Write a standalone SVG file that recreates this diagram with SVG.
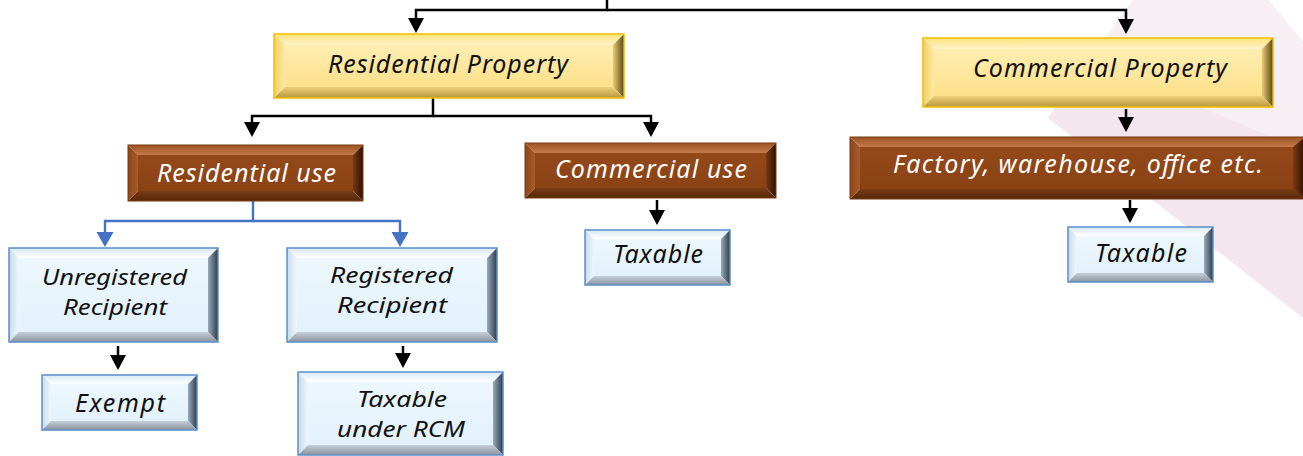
<svg xmlns="http://www.w3.org/2000/svg" width="1303" height="456" viewBox="0 0 1303 456">
  <style>
    .lbl { font-family: "Noto Sans", "Open Sans", sans-serif; font-style: italic; font-size: 25px; }
    .two { font-size: 22px; }
    .dark { fill: #111; }
    .light { fill: #fff; }
    .wire { fill: none; stroke: #000; stroke-width: 2.5; marker-end: url(#arrowBlack); }
    .wire-blue { fill: none; stroke: #4472c4; stroke-width: 2.4; marker-end: url(#arrowBlue); }
    .y-face { fill: url(#yFace); } .y-top { fill: url(#yTop); } .y-left { fill: url(#yLeft); }
    .y-right { fill: url(#yRight); } .y-bot { fill: url(#yBot); }
    .y-edge { fill: none; stroke: #f2be00; stroke-width: 1.5; }
    .b-face { fill: url(#bFace); } .b-top { fill: url(#bTop); } .b-left { fill: url(#bLeft); }
    .b-right { fill: url(#bRight); } .b-bot { fill: url(#bBot); }
    .b-edge { fill: none; stroke: #7a3a10; stroke-width: 1; }
    .l-face { fill: url(#lFace); } .l-top { fill: url(#lTop); } .l-left { fill: url(#lLeft); }
    .l-right { fill: url(#lRight); } .l-bot { fill: url(#lBot); }
    .l-edge { fill: none; stroke: #5b8fc9; stroke-width: 1.5; }
  </style>
  <defs>
    <marker id="arrowBlack" markerUnits="userSpaceOnUse" markerWidth="17" markerHeight="17" refX="12" refY="8" orient="auto">
      <path d="M0,0 L15,8 L0,16 z" fill="#000"/>
    </marker>
    <marker id="arrowBlue" markerUnits="userSpaceOnUse" markerWidth="17" markerHeight="18" refX="12" refY="8.5" orient="auto">
      <path d="M0,0 L15,8.5 L0,17 z" fill="#4472c4"/>
    </marker>
    <!-- yellow bevel -->
    <linearGradient id="yFace" x1="0" y1="0" x2="0" y2="1"><stop offset="0" stop-color="#ffeeb2"/><stop offset="1" stop-color="#fde08a"/></linearGradient>
    <linearGradient id="yTop" x1="0" y1="0" x2="0" y2="1"><stop offset="0" stop-color="#ffe27a"/><stop offset="1" stop-color="#fff3c8"/></linearGradient>
    <linearGradient id="yLeft" x1="0" y1="0" x2="1" y2="0"><stop offset="0" stop-color="#f3cf62"/><stop offset="1" stop-color="#ffe9a6"/></linearGradient>
    <linearGradient id="yRight" x1="0" y1="0" x2="1" y2="0"><stop offset="0" stop-color="#eacb72"/><stop offset="1" stop-color="#5a4714"/></linearGradient>
    <linearGradient id="yBot" x1="0" y1="0" x2="0" y2="1"><stop offset="0" stop-color="#edd07a"/><stop offset="1" stop-color="#b8983e"/></linearGradient>
    <!-- brown bevel -->
    <linearGradient id="bFace" x1="0" y1="0" x2="0" y2="1"><stop offset="0" stop-color="#94491a"/><stop offset="1" stop-color="#8a4214"/></linearGradient>
    <linearGradient id="bTop" x1="0" y1="0" x2="0" y2="1"><stop offset="0" stop-color="#9c5222"/><stop offset="1" stop-color="#c47a4c"/></linearGradient>
    <linearGradient id="bLeft" x1="0" y1="0" x2="1" y2="0"><stop offset="0" stop-color="#8e4618"/><stop offset="1" stop-color="#a85c2c"/></linearGradient>
    <linearGradient id="bRight" x1="0" y1="0" x2="1" y2="0"><stop offset="0" stop-color="#7a3a12"/><stop offset="1" stop-color="#2a1004"/></linearGradient>
    <linearGradient id="bBot" x1="0" y1="0" x2="0" y2="1"><stop offset="0" stop-color="#7a3c14"/><stop offset="1" stop-color="#562808"/></linearGradient>
    <!-- pale blue bevel -->
    <linearGradient id="lFace" x1="0" y1="0" x2="0" y2="1"><stop offset="0" stop-color="#edf7fd"/><stop offset="1" stop-color="#e2f1fb"/></linearGradient>
    <linearGradient id="lTop" x1="0" y1="0" x2="0" y2="1"><stop offset="0" stop-color="#d8e8f4"/><stop offset="1" stop-color="#ffffff"/></linearGradient>
    <linearGradient id="lLeft" x1="0" y1="0" x2="1" y2="0"><stop offset="0" stop-color="#c8dbe9"/><stop offset="1" stop-color="#eef7fc"/></linearGradient>
    <linearGradient id="lRight" x1="0" y1="0" x2="1" y2="0"><stop offset="0" stop-color="#98aabb"/><stop offset="1" stop-color="#2c3b4a"/></linearGradient>
    <linearGradient id="lBot" x1="0" y1="0" x2="0" y2="1"><stop offset="0" stop-color="#c6ced6"/><stop offset="1" stop-color="#8a949e"/></linearGradient>
  </defs>

  <!-- page background -->
  <rect x="0" y="0" width="1303" height="456" fill="#ffffff"/>
  <polygon points="1133,0 1268,0 1303,42 1303,318 1048,118" fill="#f3e6ef"/>
  <polygon points="1133,0 1268,0 1303,42 1303,150 1090,60" fill="#f8eff5"/>

  <!-- connectors -->
  <g id="connectors">
    <path class="wire" d="M607 0 V10 H416 V30"/>
    <path class="wire" d="M607 10 H1126 V31"/>
    <path class="wire" d="M433 98 V116 H252 V134"/>
    <path class="wire" d="M433 116 H651 V134"/>
    <path class="wire-blue" d="M253 201 V221 H105 V244"/>
    <path class="wire-blue" d="M253 221 H400 V244"/>
    <path class="wire" d="M118 346 V367"/>
    <path class="wire" d="M403 346 V365"/>
    <path class="wire" d="M657 200 V222"/>
    <path class="wire" d="M1126 109 V129"/>
    <path class="wire" d="M1130 200 V220"/>
  </g>

  <!-- Residential Property: 274,34 350x64 bevel 11 -->
  <g id="residential-property">
    <rect class="y-face" x="285" y="45" width="328" height="42"/>
    <polygon class="y-top" points="274,34 624,34 613,45 285,45"/>
    <polygon class="y-left" points="274,34 285,45 285,87 274,98"/>
    <polygon class="y-right" points="624,34 613,45 613,87 624,98"/>
    <polygon class="y-bot" points="274,98 624,98 613,87 285,87"/>
    <rect class="y-edge" x="274" y="34" width="350" height="64"/>
    <text class="lbl dark" x="328" y="73" font-size="26" textLength="240">Residential Property</text>
  </g>

  <!-- Commercial Property: 923,38 350x69 -->
  <g id="commercial-property">
    <rect class="y-face" x="934" y="49" width="328" height="47"/>
    <polygon class="y-top" points="923,38 1273,38 1262,49 934,49"/>
    <polygon class="y-left" points="923,38 934,49 934,96 923,107"/>
    <polygon class="y-right" points="1273,38 1262,49 1262,96 1273,107"/>
    <polygon class="y-bot" points="923,107 1273,107 1262,96 934,96"/>
    <rect class="y-edge" x="923" y="38" width="350" height="69"/>
    <text class="lbl dark" x="973" y="77" font-size="26" textLength="254">Commercial Property</text>
  </g>

  <!-- Residential use: 128,145 235x56 -->
  <g id="residential-use">
    <rect class="b-face" x="138" y="155" width="215" height="36"/>
    <polygon class="b-top" points="128,145 363,145 353,155 138,155"/>
    <polygon class="b-left" points="128,145 138,155 138,191 128,201"/>
    <polygon class="b-right" points="363,145 353,155 353,191 363,201"/>
    <polygon class="b-bot" points="128,201 363,201 353,191 138,191"/>
    <rect class="b-edge" x="128" y="145" width="235" height="56"/>
    <text class="lbl light" x="157" y="182" font-size="26" textLength="179">Residential use</text>
  </g>

  <!-- Commercial use: 525,143 251x55 -->
  <g id="commercial-use">
    <rect class="b-face" x="535" y="153" width="231" height="35"/>
    <polygon class="b-top" points="525,143 776,143 766,153 535,153"/>
    <polygon class="b-left" points="525,143 535,153 535,188 525,198"/>
    <polygon class="b-right" points="776,143 766,153 766,188 776,198"/>
    <polygon class="b-bot" points="525,198 776,198 766,188 535,188"/>
    <rect class="b-edge" x="525" y="143" width="251" height="55"/>
    <text class="lbl light" x="555" y="178" font-size="26" textLength="192">Commercial use</text>
  </g>

  <!-- Factory, warehouse, office etc.: 850,137 455x62 -->
  <g id="factory-warehouse-office">
    <rect class="b-face" x="860" y="147" width="435" height="42"/>
    <polygon class="b-top" points="850,137 1305,137 1295,147 860,147"/>
    <polygon class="b-left" points="850,137 860,147 860,189 850,199"/>
    <polygon class="b-right" points="1305,137 1293,147 1293,189 1305,199"/>
    <polygon class="b-bot" points="850,199 1305,199 1295,189 860,189"/>
    <rect class="b-edge" x="850" y="137" width="455" height="62"/>
    <text class="lbl light" x="893" y="173" font-size="26" textLength="370">Factory, warehouse, office etc.</text>
  </g>

  <!-- Unregistered Recipient: 9,248 209x94 -->
  <g id="unregistered-recipient">
    <rect class="l-face" x="19" y="258" width="189" height="74"/>
    <polygon class="l-top" points="9,248 218,248 208,258 19,258"/>
    <polygon class="l-left" points="9,248 19,258 19,332 9,342"/>
    <polygon class="l-right" points="218,248 208,258 208,332 218,342"/>
    <polygon class="l-bot" points="9,342 218,342 208,332 19,332"/>
    <rect class="l-edge" x="9" y="248" width="209" height="94"/>
    <text class="lbl two dark" x="42" y="285" textLength="145" lengthAdjust="spacingAndGlyphs">Unregistered</text>
    <text class="lbl two dark" x="63" y="315" textLength="104" lengthAdjust="spacingAndGlyphs">Recipient</text>
  </g>

  <!-- Registered Recipient: 287,248 210x94 -->
  <g id="registered-recipient">
    <rect class="l-face" x="297" y="258" width="190" height="74"/>
    <polygon class="l-top" points="287,248 497,248 487,258 297,258"/>
    <polygon class="l-left" points="287,248 297,258 297,332 287,342"/>
    <polygon class="l-right" points="497,248 487,258 487,332 497,342"/>
    <polygon class="l-bot" points="287,342 497,342 487,332 297,332"/>
    <rect class="l-edge" x="287" y="248" width="210" height="94"/>
    <text class="lbl two dark" x="330" y="283" textLength="123" lengthAdjust="spacingAndGlyphs">Registered</text>
    <text class="lbl two dark" x="337" y="313" textLength="110" lengthAdjust="spacingAndGlyphs">Recipient</text>
  </g>

  <!-- Exempt: 42,375 155x55 -->
  <g id="exempt">
    <rect class="l-face" x="51" y="384" width="137" height="37"/>
    <polygon class="l-top" points="42,375 197,375 188,384 51,384"/>
    <polygon class="l-left" points="42,375 51,384 51,421 42,430"/>
    <polygon class="l-right" points="197,375 188,384 188,421 197,430"/>
    <polygon class="l-bot" points="42,430 197,430 188,421 51,421"/>
    <rect class="l-edge" x="42" y="375" width="155" height="55"/>
    <text class="lbl dark" x="75" y="412" textLength="90">Exempt</text>
  </g>

  <!-- Taxable under RCM: 298,372 205x83 -->
  <g id="taxable-under-rcm">
    <rect class="l-face" x="308" y="382" width="185" height="63"/>
    <polygon class="l-top" points="298,372 503,372 493,382 308,382"/>
    <polygon class="l-left" points="298,372 308,382 308,445 298,455"/>
    <polygon class="l-right" points="503,372 493,382 493,445 503,455"/>
    <polygon class="l-bot" points="298,455 503,455 493,445 308,445"/>
    <rect class="l-edge" x="298" y="372" width="205" height="83"/>
    <text class="lbl two dark" x="357" y="407" textLength="90" lengthAdjust="spacingAndGlyphs">Taxable</text>
    <text class="lbl two dark" x="337" y="437" textLength="128" lengthAdjust="spacingAndGlyphs">under RCM</text>
  </g>

  <!-- Taxable (commercial use): 585,230 145x55 -->
  <g id="taxable-commercial-use">
    <rect class="l-face" x="594" y="239" width="127" height="37"/>
    <polygon class="l-top" points="585,230 730,230 721,239 594,239"/>
    <polygon class="l-left" points="585,230 594,239 594,276 585,285"/>
    <polygon class="l-right" points="730,230 721,239 721,276 730,285"/>
    <polygon class="l-bot" points="585,285 730,285 721,276 594,276"/>
    <rect class="l-edge" x="585" y="230" width="145" height="55"/>
    <text class="lbl dark" x="613" y="263" textLength="90">Taxable</text>
  </g>

  <!-- Taxable (factory, warehouse, office): 1068,227 145x55 -->
  <g id="taxable-factory">
    <rect class="l-face" x="1077" y="236" width="127" height="37"/>
    <polygon class="l-top" points="1068,227 1213,227 1204,236 1077,236"/>
    <polygon class="l-left" points="1068,227 1077,236 1077,273 1068,282"/>
    <polygon class="l-right" points="1213,227 1204,236 1204,273 1213,282"/>
    <polygon class="l-bot" points="1068,282 1213,282 1204,273 1077,273"/>
    <rect class="l-edge" x="1068" y="227" width="145" height="55"/>
    <text class="lbl dark" x="1095" y="262" textLength="92">Taxable</text>
  </g>
</svg>
